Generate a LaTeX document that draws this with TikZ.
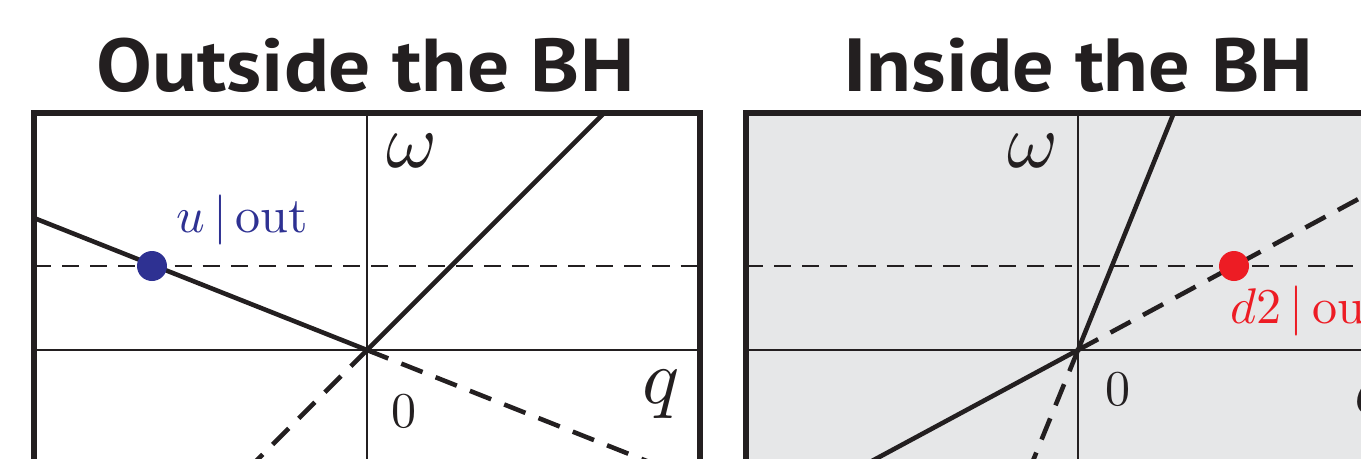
\documentclass[tikz,border=0pt]{standalone}
\usepackage{fontspec}
\newfontfamily\titlefont{PT Sans}
\definecolor{ink}{HTML}{231F20}
\definecolor{bhgray}{HTML}{E6E7E8}
\definecolor{dotblue}{HTML}{2E3192}
\definecolor{dotred}{HTML}{ED1C24}
\newcommand{\axlabbig}[1]{\scalebox{4.4}{\fontsize{10}{12}\selectfont$#1$}}
\newcommand{\axlabsmall}[1]{\scalebox{2.85}{\fontsize{10}{12}\selectfont$#1$}}
\tikzset{
  frameline/.style={draw=ink, line width=3.1pt},
  axisline/.style={draw=ink, line width=1.1pt},
  levelline/.style={draw=ink, line width=1.1pt, dash pattern=on 9.7pt off 6.3pt},
  branchsolid/.style={draw=ink, line width=2.6pt},
  branchdashed/.style={draw=ink, line width=2.6pt, dash pattern=on 13pt off 8pt},
  mathlabel/.style={inner sep=0pt, anchor=base west, text=ink},
  dotmark/.style={circle, inner sep=0pt, minimum size=0.6cm},
  titletext/.style={inner sep=0pt, anchor=base west, text=ink}
}
\begin{document}
\begin{tikzpicture}[x=0.02cm, y=-0.02cm]
\path[use as bounding box, clip] (0,0) rectangle (1361,458);
% ---------- titles
\node[titletext] (t1) at (96,91) {\resizebox{10.76cm}{1.07cm}{\titlefont\bfseries Outside the BH}};
\node[titletext] (t2) at (843,91) {\resizebox{9.40cm}{1.07cm}{\titlefont\bfseries Inside the BH}};
% ---------- left panel
\coordinate (O1) at (367,350);
\coordinate (L1top) at (367,113);
\coordinate (L1bot) at (367,520);
\coordinate (L1left) at (34,350);
\coordinate (L1right) at (700,350);
\coordinate (H1left) at (34,266);
\coordinate (H1right) at (700,266);
\coordinate (A1) at (0,204.5);
\coordinate (B1) at (617,100);
\coordinate (C1) at (217,500);
\coordinate (D1) at (745,500);
\begin{scope}
  \clip (34,113) rectangle (700,520);
  \draw[axisline] (L1top) -- (L1bot);
  \draw[axisline] (L1left) -- (L1right);
  \draw[levelline] (H1left) -- (H1right);
  \draw[branchsolid] (A1) -- (O1);
  \draw[branchsolid] (O1) -- (B1);
  \draw[branchdashed] (O1) -- (C1);
  \draw[branchdashed] (O1) -- (D1);
\end{scope}
\node[dotmark, fill=dotblue] (u) at (152,266) {};
\draw[frameline] (34,520) -- (34,113) -- (700,113) -- (700,520);
\node[mathlabel] (w1) at (386,167) {\axlabbig{\omega}};
\node[mathlabel] (q1) at (642,403) {\axlabbig{q}};
\node[mathlabel] (z1) at (391,427) {\axlabsmall{0}};
\node[mathlabel, text=dotblue] (ulab) at (176,232) {\axlabsmall{u\,|\,\mathrm{out}}};
% ---------- right panel
\coordinate (O2) at (1078,350);
\coordinate (L2top) at (1078,113);
\coordinate (L2bot) at (1078,520);
\coordinate (L2left) at (746,350);
\coordinate (L2right) at (1412,350);
\coordinate (H2left) at (746,266);
\coordinate (H2right) at (1412,266);
\coordinate (A2) at (1179,100);
\coordinate (B2) at (1017,500);
\coordinate (C2) at (1400,176.6);
\coordinate (D2) at (800,499.7);
\begin{scope}
  \clip (746,113) rectangle (1412,520);
  \fill[bhgray] (746,113) rectangle (1412,520);
  \draw[axisline] (L2top) -- (L2bot);
  \draw[axisline] (L2left) -- (L2right);
  \draw[levelline] (H2left) -- (H2right);
  \draw[branchsolid] (O2) -- (A2);
  \draw[branchsolid] (O2) -- (D2);
  \draw[branchdashed] (O2) -- (B2);
  \draw[branchdashed] (O2) -- (C2);
\end{scope}
\node[dotmark, fill=dotred] (d) at (1234,266) {};
\draw[frameline] (746,520) -- (746,113) -- (1412,113) -- (1412,520);
\node[mathlabel] (w2) at (1007,167) {\axlabbig{\omega}};
\node[mathlabel] (q2) at (1354,413) {\axlabbig{q}};
\node[mathlabel] (z2) at (1105,405) {\axlabsmall{0}};
\node[mathlabel, text=dotred] (dlab) at (1230,323) {\axlabsmall{d2\,|\,\mathrm{out}}};
\end{tikzpicture}
\end{document}
